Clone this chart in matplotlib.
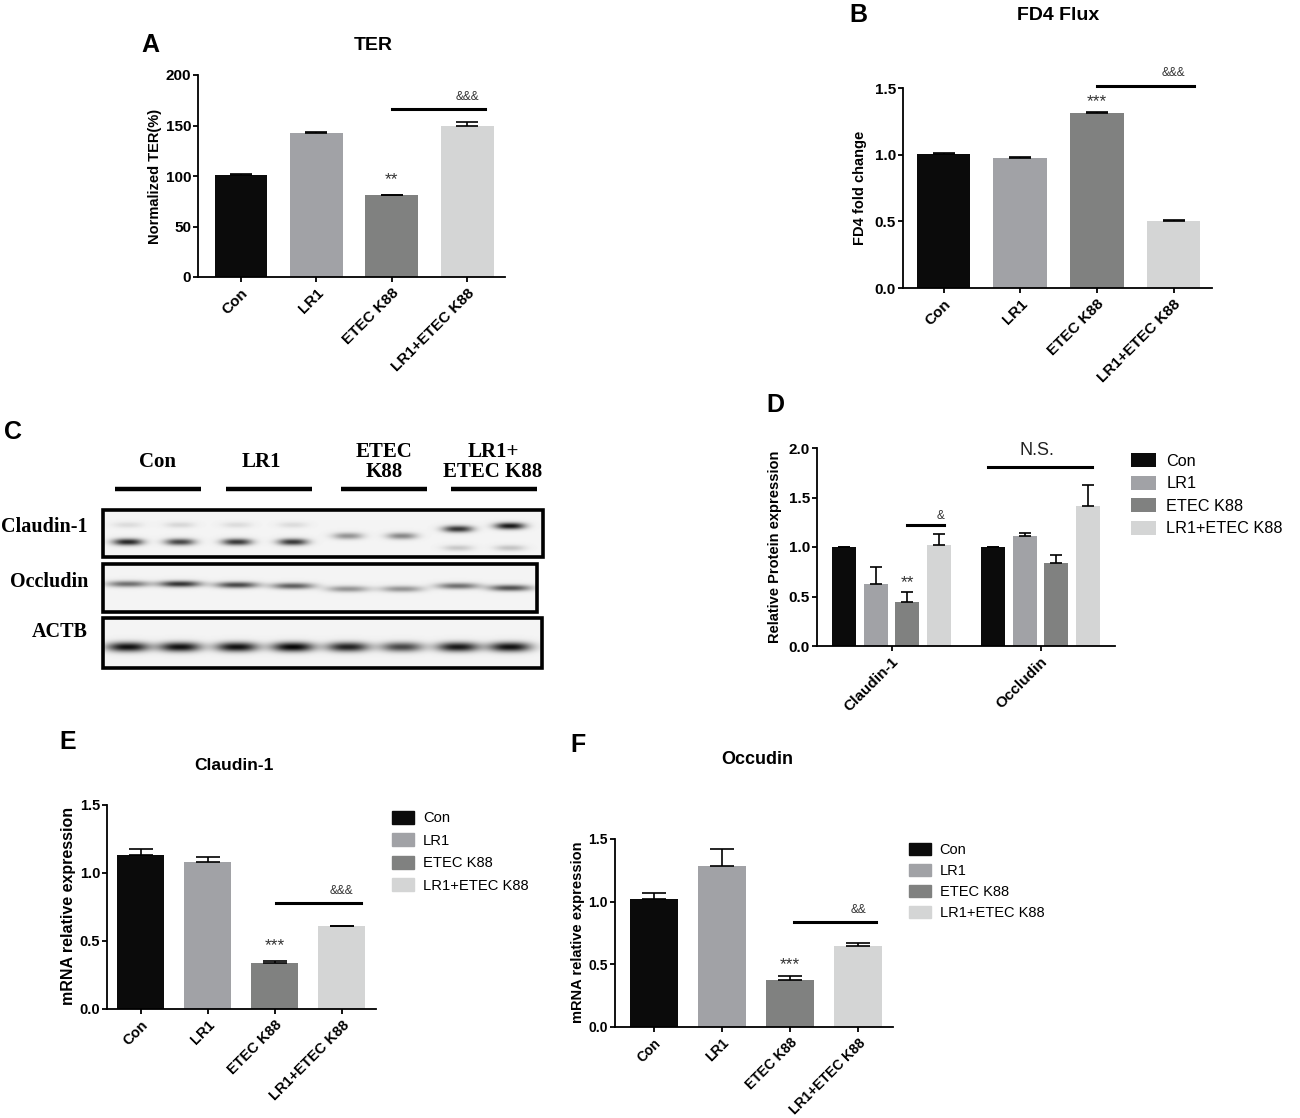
import numpy as np
import matplotlib
matplotlib.use("Agg")
import matplotlib.pyplot as plt
from matplotlib.patches import Rectangle, Patch

plt.rcParams['font.family'] = ['Liberation Sans', 'DejaVu Sans']

W, H = 1300, 1118

# ---------------- data ----------------
groups = ["Con", "LR1", "ETEC K88", "LR1+ETEC K88"]
colors = ["#0b0b0b", "#a1a2a6", "#808180", "#d4d5d5"]

ter_vals = [101, 143, 81, 150]
ter_errs = [0.8, 0.8, 0.6, 3.0]

fd4_vals = [1.005, 0.975, 1.315, 0.505]
fd4_errs = [0.004, 0.004, 0.004, 0.004]

prot_genes = ["Claudin-1", "Occludin"]
prot_vals = {"Con": [1.00, 1.00], "LR1": [0.63, 1.11],
             "ETEC K88": [0.44, 0.84], "LR1+ETEC K88": [1.02, 1.41]}
prot_errs = {"Con": [0.0, 0.0], "LR1": [0.17, 0.035],
             "ETEC K88": [0.11, 0.08], "LR1+ETEC K88": [0.11, 0.22]}

cld_vals = [1.135, 1.083, 0.339, 0.609]
cld_errs = [0.042, 0.035, 0.012, 0.003]

occ_vals = [1.02, 1.283, 0.378, 0.645]
occ_errs = [0.048, 0.138, 0.030, 0.027]

# western blot band intensities (8 lanes, 2 per group)
blot_lanes = ["Con", "Con", "LR1", "LR1", "ETEC K88", "ETEC K88", "LR1+ETEC K88", "LR1+ETEC K88"]
claudin_main = [0.85, 0.72, 0.78, 0.78, 0.40, 0.45, 0.80, 0.92]
claudin_faint = [0.10, 0.12, 0.10, 0.10, 0.0, 0.0, 0.18, 0.20]
occludin_band = [0.55, 0.80, 0.72, 0.62, 0.40, 0.40, 0.55, 0.68]
actb_band = [0.95, 0.95, 0.95, 1.0, 0.88, 0.72, 0.92, 0.95]

fig = plt.figure(figsize=(W / 100, H / 100), dpi=100)


def ax_px(l, t, r, b):
    return fig.add_axes([l / W, 1 - b / H, (r - l) / W, (b - t) / H])


def fx(x):
    return x / W


def fy(y):
    return 1 - y / H


def style(ax, tsize=11):
    for s in ["top", "right"]:
        ax.spines[s].set_visible(False)
    for s in ["left", "bottom"]:
        ax.spines[s].set_linewidth(1.3)
    ax.tick_params(axis="both", width=1.3, length=3.8, labelsize=tsize)
    ax.tick_params(axis="y", pad=1.2)
    ax.tick_params(axis="x", pad=2.5)
    for lab in ax.get_yticklabels():
        lab.set_fontweight("bold")


def bar4(ax, vals, errs, cap=8):
    x = np.arange(4)
    bars = ax.bar(x, vals, width=0.7, color=colors, zorder=2)
    ax.errorbar(x, vals, yerr=[np.zeros(4), errs], fmt="none", ecolor="black",
                elinewidth=1.2, capsize=cap, capthick=1.2, zorder=3)
    ax.set_xticks(x)
    ax.set_xticklabels(groups, rotation=45, ha="right", rotation_mode="anchor",
                       fontweight="bold")
    return bars


STAR = 12.5
AMP = 8.5


def star(ax, x, y, s):
    ax.text(x, y, s, ha="center", va="center", fontsize=STAR, color="#333333",
            clip_on=False)


# ---------------- A ----------------
axA = ax_px(198, 75, 505, 277)
bar4(axA, ter_vals, ter_errs, cap=8)
axA.set_xlim(-0.57, 3.5)
axA.set_ylim(0, 200)
axA.set_yticks([0, 50, 100, 150, 200])
style(axA, 11)
axA.plot([2.0, 3.23], [166, 166], color="black", lw=2.2, clip_on=False)
axA.text(3.0, 178, "&&&", ha="center", va="center", fontsize=AMP, color="#333333")
star(axA, 2.0, 96, "**")
fig.text(fx(373), fy(45), "TER", ha="center", va="center", fontsize=14, fontweight="bold")
fig.text(fx(150), fy(45), "A", ha="center", va="center", fontsize=18, fontweight="bold")
fig.text(fx(155), fy(176), "Normalized TER(%)", rotation=90, ha="center", va="center",
         fontsize=10.5, fontweight="bold")

# ---------------- B ----------------
axB = ax_px(903, 88, 1212, 288)
bar4(axB, fd4_vals, fd4_errs, cap=8)
axB.set_xlim(-0.53, 3.5)
axB.set_ylim(0, 1.5)
axB.set_yticks([0, 0.5, 1.0, 1.5])
axB.set_yticklabels(["0.0", "0.5", "1.0", "1.5"])
style(axB, 11)
axB.plot([2.0, 3.27], [1.515, 1.515], color="black", lw=2.2, clip_on=False)
axB.text(3.0, 1.61, "&&&", ha="center", va="center", fontsize=AMP, color="#333333")
star(axB, 2.0, 1.40, "***")
fig.text(fx(1058), fy(15), "FD4 Flux", ha="center", va="center", fontsize=14, fontweight="bold")
fig.text(fx(858), fy(15), "B", ha="center", va="center", fontsize=18, fontweight="bold")
fig.text(fx(860), fy(188), "FD4 fold change", rotation=90, ha="center", va="center",
         fontsize=10.5, fontweight="bold")

# ---------------- C (western blot) ----------------
axC = ax_px(0, 420, 560, 690)
axC.set_xlim(0, 560)
axC.set_ylim(690, 420)
axC.axis("off")
lane_x = [128, 180, 237, 293, 348, 402, 458, 510]


def band_img(x0, x1, y0, y1, bands):
    xs = np.arange(x0, x1) + 0.5
    ys = np.arange(y0, y1) + 0.5
    X, Y = np.meshgrid(xs, ys)
    d = np.zeros_like(X)
    for (cx, cy, wx, wy, a) in bands:
        d += a * np.exp(-np.abs((X - cx) / wx) ** 2.5) * np.exp(-((Y - cy) / wy) ** 2)
    d = np.clip(d, 0, 1)
    img = 0.955 - 0.93 * d
    axC.imshow(img, cmap="gray", vmin=0, vmax=1, extent=(x0, x1, y1, y0),
               aspect="auto", interpolation="bilinear", zorder=1)
    axC.add_patch(Rectangle((x0, y0), x1 - x0, y1 - y0, fill=False, lw=2.6,
                            edgecolor="black", zorder=3))


cl_main_y = [542, 542, 542, 542, 536, 536, 529, 526]
cl_faint_y = [525, 525, 525, 525, 548, 548, 548, 548]
bands1 = []
for i, cx in enumerate(lane_x):
    bands1.append((cx, cl_main_y[i], 15, 3.4, claudin_main[i]))
    bands1.append((cx, cl_faint_y[i], 15, 3.0, claudin_faint[i]))
band_img(103, 543, 510, 557, bands1)

bands2 = []
oc_y = [584, 584, 585, 586, 589, 589, 586, 588]
for i, cx in enumerate(lane_x):
    bands2.append((cx, oc_y[i], 21, 3.2, occludin_band[i]))
band_img(103, 537, 564, 612, bands2)

bands3 = []
for i, cx in enumerate(lane_x):
    bands3.append((cx, 647, 21, 4.8, actb_band[i]))
band_img(103, 542, 618, 668, bands3)

serif = ["Liberation Serif", "DejaVu Serif"]
for txt, y in [("Claudin-1", 527), ("Occludin", 582), ("ACTB", 632)]:
    axC.text(88, y, txt, ha="right", va="center", fontsize=14.5, fontweight="bold", family=serif)

head = [("Con", 158), ("LR1", 261), ("ETEC\nK88", 384), ("LR1+\nETEC K88", 493)]
for txt, x in head:
    axC.text(x, 462, txt, ha="center", va="center", fontsize=15, fontweight="bold",
             family=serif, linespacing=1.0)
for (a, b) in [(115, 201), (226, 312), (341, 427), (451, 537)]:
    axC.plot([a, b], [489, 489], color="black", lw=3.2, solid_capstyle="butt")
fig.text(fx(13), fy(432), "C", ha="center", va="center", fontsize=18, fontweight="bold")

# ---------------- D ----------------
axD = ax_px(817, 448, 1115, 646)
off = 0.213
bw = 0.16
xg = np.arange(2)
handles = []
for k, g in enumerate(groups):
    xx = xg + (k - 1.5) * off
    b = axD.bar(xx, prot_vals[g], width=bw, color=colors[k], zorder=2, label=g)
    axD.errorbar(xx, prot_vals[g], yerr=[np.zeros(2), prot_errs[g]], fmt="none",
                 ecolor="black", elinewidth=1.2, capsize=4.5, capthick=1.2, zorder=3)
    handles.append(b)
axD.set_xlim(-0.5, 1.5)
axD.set_ylim(0, 2.0)
axD.set_yticks([0, 0.5, 1.0, 1.5, 2.0])
axD.set_yticklabels(["0.0", "0.5", "1.0", "1.5", "2.0"])
axD.set_xticks(xg)
axD.set_xticklabels(prot_genes, rotation=45, ha="right", rotation_mode="anchor",
                    fontweight="bold")
style(axD, 11)
axD.plot([0.107, 0.35], [1.227, 1.227], color="black", lw=2.2, clip_on=False)
axD.text(0.327, 1.31, "&", ha="center", va="center", fontsize=AMP, color="#333333")
star(axD, 0.107, 0.645, "**")
axD.plot([0.645, 1.347], [1.808, 1.808], color="black", lw=2.2, clip_on=False)
axD.text(0.973, 1.975, "N.S.", ha="center", va="center", fontsize=13, color="#222222")
fig.text(fx(775), fy(405), "D", ha="center", va="center", fontsize=18, fontweight="bold")
fig.text(fx(775), fy(547), "Relative Protein expression", rotation=90, ha="center",
         va="center", fontsize=10.5, fontweight="semibold")
fig.legend(handles, groups, loc="upper left", bbox_to_anchor=(fx(1128), fy(450)),
           frameon=False, fontsize=11.7, handlelength=1.55, handleheight=0.95,
           handletextpad=0.6, labelspacing=0.42, borderaxespad=0, borderpad=0.2)

# ---------------- E ----------------
axE = ax_px(107, 805, 376, 1009)
bar4(axE, cld_vals, cld_errs, cap=8.5)
axE.set_xlim(-0.5, 3.51)
axE.set_ylim(0, 1.5)
axE.set_yticks([0, 0.5, 1.0, 1.5])
axE.set_yticklabels(["0.0", "0.5", "1.0", "1.5"])
style(axE, 10.5)
axE.plot([2.02, 3.29], [0.778, 0.778], color="black", lw=2.2, clip_on=False)
axE.text(3.0, 0.866, "&&&", ha="center", va="center", fontsize=AMP, color="#333333")
star(axE, 2.0, 0.465, "***")
fig.text(fx(234), fy(765), "Claudin-1", ha="center", va="center", fontsize=12.5, fontweight="bold")
fig.text(fx(68), fy(742), "E", ha="center", va="center", fontsize=18, fontweight="bold")
fig.text(fx(68), fy(906), "mRNA relative expression", rotation=90, ha="center",
         va="center", fontsize=11.5, fontweight="bold")
fig.legend(handles=[Patch(color=c) for c in colors], labels=groups, loc="upper left",
           bbox_to_anchor=(fx(389), fy(808)), frameon=False, fontsize=10.6,
           handlelength=1.5, handleheight=0.95, handletextpad=0.6, labelspacing=0.55,
           borderaxespad=0, borderpad=0.2)

# ---------------- F ----------------
axF = ax_px(615, 839, 893, 1027)
bar4(axF, occ_vals, occ_errs, cap=8.5)
axF.set_xlim(-0.57, 3.51)
axF.set_ylim(0, 1.5)
axF.set_yticks([0, 0.5, 1.0, 1.5])
axF.set_yticklabels(["0.0", "0.5", "1.0", "1.5"])
style(axF, 10)
axF.plot([2.06, 3.26], [0.8375, 0.8375], color="black", lw=2.2, clip_on=False)
axF.text(3.0, 0.93, "&&", ha="center", va="center", fontsize=AMP, color="#333333")
star(axF, 2.0, 0.495, "***")
fig.text(fx(757), fy(760), "Occudin", ha="center", va="center", fontsize=13, fontweight="bold")
fig.text(fx(578), fy(745), "F", ha="center", va="center", fontsize=18, fontweight="bold")
fig.text(fx(578), fy(932), "mRNA relative expression", rotation=90, ha="center",
         va="center", fontsize=10.5, fontweight="bold")
fig.legend(handles=[Patch(color=c) for c in colors], labels=groups, loc="upper left",
           bbox_to_anchor=(fx(906), fy(840)), frameon=False, fontsize=10.5,
           handlelength=1.5, handleheight=0.95, handletextpad=0.6, labelspacing=0.45,
           borderaxespad=0, borderpad=0.2)

fig.savefig("out.png", dpi=100)
